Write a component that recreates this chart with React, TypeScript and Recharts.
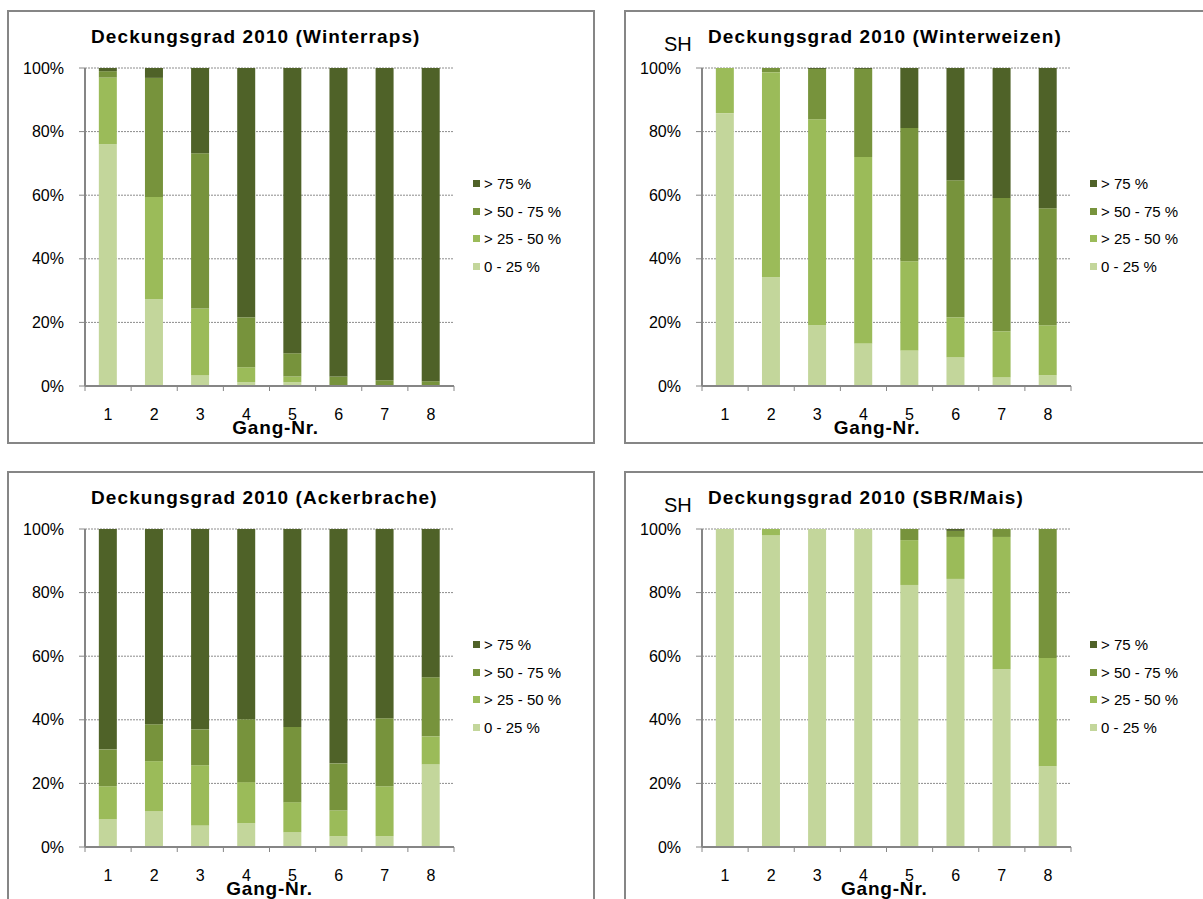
import React from 'react'
import { BarChart, Bar, XAxis, YAxis, CartesianGrid, Legend } from 'recharts'

// Gang-Nr. (x categories) and y ticks
const GANG = ['1', '2', '3', '4', '5', '6', '7', '8']
const Y_TICKS = [0, 20, 40, 60, 80, 100]
const CLASSES = ['0 - 25 %', '> 25 - 50 %', '> 50 - 75 %', '> 75 %']
const COLORS = ['#c3d69b', '#9bbb59', '#77933c', '#4f6228']

// Winterraps
const RAPS_0_25 = [76, 27.3, 3.4, 1.2, 1.2, 0, 0, 0]
const RAPS_25_50 = [21, 32.1, 21, 4.7, 1.8, 0, 0, 0]
const RAPS_50_75 = [2, 37.5, 48.8, 15.7, 7.3, 3, 1.8, 1.5]
const RAPS_75 = [1, 3.1, 26.8, 78.4, 89.7, 97, 98.2, 98.5]

// Winterweizen
const WEIZEN_0_25 = [85.8, 34.2, 19.1, 13.4, 11.2, 9, 2.7, 3.4]
const WEIZEN_25_50 = [14.2, 64.5, 64.8, 58.6, 28, 12.6, 14.5, 15.7]
const WEIZEN_50_75 = [0, 1.3, 15.8, 27.7, 41.9, 43.1, 41.9, 36.8]
const WEIZEN_75 = [0, 0, 0.3, 0.3, 18.9, 35.3, 40.9, 44.1]

// Ackerbrache
const BRACHE_0_25 = [8.7, 11.2, 6.8, 7.5, 4.6, 3.4, 3.4, 26]
const BRACHE_25_50 = [10.4, 15.8, 18.9, 12.9, 9.5, 8.1, 15.7, 8.8]
const BRACHE_50_75 = [11.6, 11.6, 11.3, 19.8, 23.6, 14.8, 21.4, 18.6]
const BRACHE_75 = [69.3, 61.4, 63, 59.8, 62.3, 73.7, 59.5, 46.6]

// SBR/Mais
const MAIS_0_25 = [100, 98.1, 100, 100, 82.4, 84.3, 55.9, 25.4]
const MAIS_25_50 = [0, 1.9, 0, 0, 14.1, 13.2, 41.6, 34]
const MAIS_50_75 = [0, 0, 0, 0, 3.5, 1.9, 2.5, 40.6]
const MAIS_75 = [0, 0, 0, 0, 0, 0.6, 0, 0]

const FONT = '"Liberation Sans", Arial, sans-serif'
const AXIS = '#868686'
const TICK_MARGIN = 23

function rows(series: number[][]) {
  return GANG.map((g, i) => ({ gang: g, c0: series[0][i], c1: series[1][i], c2: series[2][i], c3: series[3][i] }))
}

function GangTick(props: any) {
  const { x, y, payload, index, visibleTicksCount } = props
  const half = payload.offset
  const axisY = y - TICK_MARGIN
  return (
    <g>
      <line x1={x - half} x2={x - half} y1={axisY} y2={axisY + 5} stroke={AXIS} />
      {index === visibleTicksCount - 1 && <line x1={x + half} x2={x + half} y1={axisY} y2={axisY + 5} stroke={AXIS} />}
      <text x={x} y={y} dy="0.71em" textAnchor="middle" fontSize={16} fontFamily={FONT} fill="#000">{payload.value}</text>
    </g>
  )
}

function LegendBox(props: any) {
  const items = [...(props.payload || [])].sort((a: any, b: any) => CLASSES.indexOf(b.value) - CLASSES.indexOf(a.value))
  return (
    <div style={{ fontFamily: FONT, fontSize: 15, color: '#000' }}>
      {items.map((it: any) => (
        <div key={it.value} style={{ display: 'flex', alignItems: 'center', height: 27.8, whiteSpace: 'nowrap' }}>
          <span style={{ width: 7, height: 7, background: it.color, marginRight: 4, display: 'inline-block' }} />
          <span>{it.value}</span>
        </div>
      ))}
    </div>
  )
}

interface PanelProps {
  left: number; top: number; frameW: number; frameH: number;
  title: string; sh?: boolean; gangX: number; data: any[];
}

function Panel({ left, top, frameW, frameH, title, sh, gangX, data }: PanelProps) {
  return (
    <div style={{ position: 'absolute', left, top, width: 600, height: 440 }}>
      <div style={{ position: 'absolute', left: 0, top: 0, width: frameW, height: frameH, border: `2px solid ${AXIS}`, boxSizing: 'border-box' }} />
      <div style={{ position: 'absolute', left: 0, top: 0 }}>
        <BarChart width={588} height={434} data={data} margin={{ top: 58, right: 141, left: 0, bottom: 0 }} barCategoryGap="30%">
          <CartesianGrid vertical={false} stroke="#8c8c8c" strokeDasharray="2 1" />
          <XAxis dataKey="gang" height={58} tickLine={false} tickSize={0} tickMargin={TICK_MARGIN}
            axisLine={{ stroke: AXIS, strokeWidth: 2 }} tick={<GangTick />} interval={0} />
          <YAxis width={78} domain={[0, 100]} ticks={Y_TICKS} tickFormatter={(v: number) => `${v}%`}
            tickSize={6} tickMargin={15} axisLine={{ stroke: AXIS, strokeWidth: 2 }} tickLine={{ stroke: AXIS }}
            tick={{ fontSize: 16, fill: '#000', fontFamily: FONT }} interval={0} />
          <Legend layout="vertical" align="center" verticalAlign="middle" content={<LegendBox />}
            wrapperStyle={{ left: 466, top: 159.4, width: 'auto' }} />
          {CLASSES.map((c, i) => (
            <Bar key={c} dataKey={`c${i}`} name={c} stackId="s" fill={COLORS[i]} isAnimationActive={false} />
          ))}
        </BarChart>
      </div>
      <div style={{ position: 'absolute', left: 84, top: 16.8, fontFamily: FONT, fontSize: 19, fontWeight: 'bold', letterSpacing: 1.1, lineHeight: 1, whiteSpace: 'nowrap' }}>{title}</div>
      {sh && <div style={{ position: 'absolute', left: 40, top: 24.4, fontFamily: FONT, fontSize: 20, lineHeight: 1 }}>SH</div>}
      <div style={{ position: 'absolute', left: gangX, top: 408.2, transform: 'translateX(-50%)', fontFamily: FONT, fontSize: 19, fontWeight: 'bold', letterSpacing: 0.8, lineHeight: 1, whiteSpace: 'nowrap' }}>Gang-Nr.</div>
    </div>
  )
}

export default function App() {
  return (
    <div style={{ position: 'absolute', left: 0, top: 0, width: 1203, height: 899, overflow: 'hidden', background: '#fff' }}>
      <Panel left={7} top={10} frameW={588} frameH={434} title="Deckungsgrad 2010 (Winterraps)" gangX={268.6}
        data={rows([RAPS_0_25, RAPS_25_50, RAPS_50_75, RAPS_75])} />
      <Panel left={624} top={10} frameW={600} frameH={434} title="Deckungsgrad 2010 (Winterweizen)" sh gangX={253}
        data={rows([WEIZEN_0_25, WEIZEN_25_50, WEIZEN_50_75, WEIZEN_75])} />
      <Panel left={7} top={471} frameW={588} frameH={440} title="Deckungsgrad 2010 (Ackerbrache)" gangX={262.5}
        data={rows([BRACHE_0_25, BRACHE_25_50, BRACHE_50_75, BRACHE_75])} />
      <Panel left={624} top={471} frameW={600} frameH={440} title="Deckungsgrad 2010 (SBR/Mais)" sh gangX={260.3}
        data={rows([MAIS_0_25, MAIS_25_50, MAIS_50_75, MAIS_75])} />
    </div>
  )
}
